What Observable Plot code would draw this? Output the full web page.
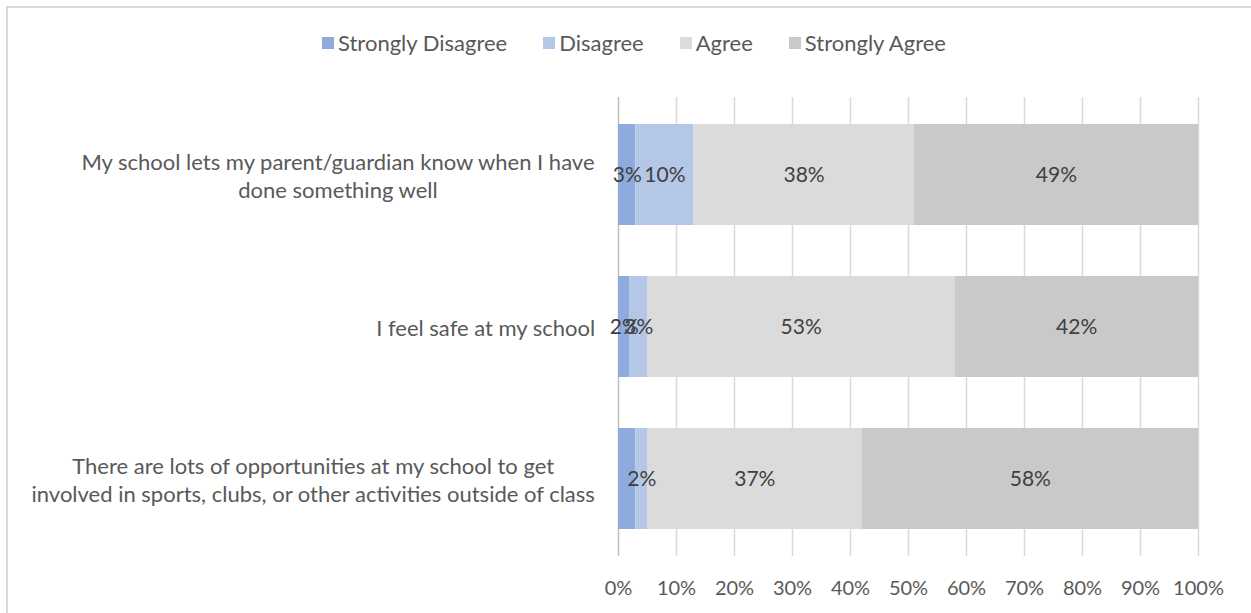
<!DOCTYPE html>
<html>
<head>
<meta charset="utf-8">
<script src="https://cdn.jsdelivr.net/npm/d3@7"></script>
<script src="https://cdn.jsdelivr.net/npm/@observablehq/plot@0.6"></script>
<style>
  html, body { margin: 0; padding: 0; background: #fff; overflow: hidden; }
  body { width: 1251px; height: 613px; position: relative; font-family: Lato, "Noto Sans", sans-serif; }
  #frame { position: absolute; left: 6px; top: 6px; width: 1260px; height: 620px; border: 2px solid #d9d9d9; box-sizing: border-box; }
  #legend { position: absolute; top: 29px; left: 0; width: 1268px; display: flex; justify-content: center; gap: 36px; font-size: 22px; color: #595959; }
  #legend .item { display: flex; align-items: center; gap: 4px; }
  #legend .sw { width: 12px; height: 12px; display: inline-block; }
  #chart { position: absolute; left: 0; top: 0; }
</style>
</head>
<body>
<div id="frame"></div>
<div id="legend"></div>
<div id="chart"></div>
<script>
const categories = [
  "My school lets my parent/guardian know when I have done something well",
  "I feel safe at my school",
  "There are lots of opportunities at my school to get involved in sports, clubs, or other activities outside of class"
];
const categoryLines = [
  ["My school lets my parent/guardian know when I have", "done something well"],
  ["I feel safe at my school"],
  ["There are lots of opportunities at my school to get", "involved in sports, clubs, or other activities outside of class"]
];
const responses = ["Strongly Disagree", "Disagree", "Agree", "Strongly Agree"];
const colors = ["#8faadc", "#b4c7e7", "#dbdbdb", "#c9c9c9"];
const stronglyDisagree = [3, 2, 3];
const disagree = [10, 3, 2];
const agree = [38, 53, 37];
const stronglyAgree = [49, 42, 58];
// which data labels are visible in the picture
const labelShown = [
  [true, true, true, true],
  [true, true, true, true],
  [false, true, true, true]
];
const xTicks = [0, 10, 20, 30, 40, 50, 60, 70, 80, 90, 100];

const series = [stronglyDisagree, disagree, agree, stronglyAgree];
const rows = [];
categories.forEach((c, i) => {
  responses.forEach((r, j) => {
    rows.push({category: c, response: r, value: series[j][i], show: labelShown[i][j]});
  });
});

// legend
const legend = document.getElementById("legend");
responses.forEach((r, j) => {
  const it = document.createElement("div");
  it.className = "item";
  it.innerHTML = `<span class="sw" style="background:${colors[j]}"></span><span>${r}</span>`;
  legend.appendChild(it);
});

const FONT = "Lato, 'Noto Sans', sans-serif";
const CAT_FS = 22;
const LBL_FS = 21;
const TICK_FS = 20;
const ctx = document.createElement("canvas").getContext("2d");
ctx.font = `${CAT_FS}px Lato`;
const gap = 23;

const labelMarks = categories.map((c, i) => {
  const w = Math.max(...categoryLines[i].map(l => ctx.measureText(l).width));
  return Plot.text([c], {
    x: 0, y: d => d, text: () => categoryLines[i].join("\n"),
    textAnchor: "middle", dx: -(gap + w / 2), lineHeight: 1.27,
    fill: "#595959", fontSize: CAT_FS
  });
});

const chart = Plot.plot({
  width: 1251,
  height: 613,
  marginLeft: 618,
  marginRight: 53,
  marginTop: 97,
  marginBottom: 57,
  style: {fontFamily: FONT, fontSize: TICK_FS + "px", background: "transparent"},
  x: {domain: [0, 100], axis: null},
  y: {domain: categories, paddingInner: 0.333, paddingOuter: 0.1667, axis: null},
  color: {domain: responses, range: colors},
  marks: [
    Plot.ruleX(xTicks, {x: d => d, stroke: d => d === 0 ? "#bfbfbf" : "#d9d9d9", strokeWidth: 1.5}),
    Plot.barX(rows, Plot.stackX({x: "value", y: "category", z: "response", fill: "response", order: null})),
    Plot.text(rows, Plot.stackX({x: "value", y: "category", z: "response", order: null,
      text: d => d.show ? d.value + "%" : null, fill: "#404040", fontSize: LBL_FS})),
    Plot.axisX(xTicks, {tickSize: 0, tickPadding: 24, tickFormat: d => d + "%", fill: "#595959", fontSize: TICK_FS, label: null}),
    ...labelMarks
  ]
});
document.getElementById("chart").appendChild(chart);
</script>
</body>
</html>
